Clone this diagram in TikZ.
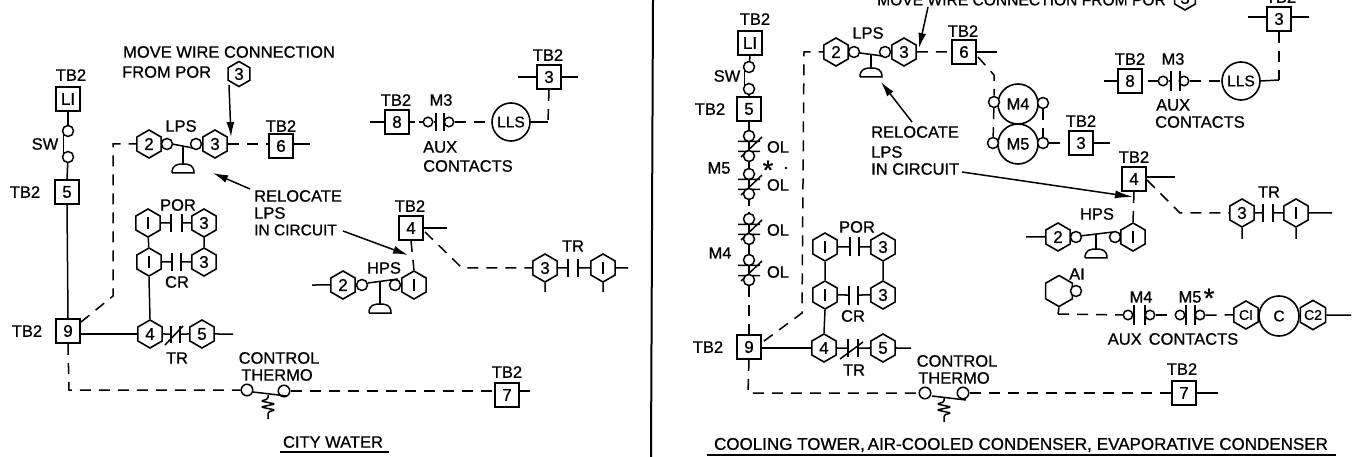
\documentclass[tikz,border=0pt]{standalone}
\usepackage{fontspec}
\setmainfont{Liberation Sans}[FakeBold=0.8]
\usetikzlibrary{shapes.geometric,arrows.meta,calc}
\tikzset{
  wire/.style={line width=1.5pt,black},
  dwire/.style={line width=1.5pt,black,dash pattern=on 11pt off 8pt},
  lbl/.style={inner sep=0pt,font=\fontsize{16.5}{18}\selectfont,text=black},
  lblw/.style={lbl,anchor=west},
  hexn/.style={draw,line width=1.6pt,regular polygon,regular polygon sides=6,shape border rotate=30,minimum size=28pt,inner sep=0pt,fill=white,font=\fontsize{17}{18}\selectfont},
  boxn/.style={draw,line width=1.7pt,minimum size=24pt,inner sep=0pt,fill=white,font=\fontsize{17}{18}\selectfont},
  bub/.style={draw,line width=1.5pt,circle,minimum size=11pt,inner sep=0pt,fill=white},
  bigc/.style={draw,line width=1.6pt,circle,minimum size=38pt,inner sep=0pt,fill=white,font=\fontsize{15.5}{17}\selectfont},
  lead/.style={line width=1.5pt,-{Latex[length=15pt,width=8pt]}},
}
% vertical contact bar at a named coordinate
\newcommand\vbar[4]{\coordinate (#1) at (#2,#3); \draw[wire] (#2,#3-#4) -- (#2,#3+#4);}
% dome of a pressure switch, stem from coordinate
\newcommand\dome[2]{\draw[wire] (#1-11,#2+9) -- (#1+11,#2+9) .. controls (#1+11,#2+1) and (#1+6,#2) .. (#1,#2) .. controls (#1-6,#2) and (#1-11,#2+1) .. (#1-11,#2+9);}
% overload pair
\newcommand\olc[3]{%
  \draw[wire] (#2-11,#3+5.5) -- (#2+11,#3+5.5) (#2-11,#3+15.5) -- (#2+11,#3+15.5) (#2-8,#3+21) -- (#2+13,#3+1);
  \node[bub] (#1a) at (#2,#3) {}; \node[bub] (#1b) at (#2,#3+20) {};
  \draw[wire] (#1a) -- (#1b);}
\newcommand\spring[2]{\draw[wire,rounded corners=1.5pt] (#1,#2) -- (#1,#2+4) -- (#1-7,#2+6) -- (#1+7,#2+9) -- (#1-7,#2+12) -- (#1+7,#2+15) -- (#1,#2+17) -- (#1,#2+24);}
\begin{document}
\begin{tikzpicture}[x=1pt,y=-1pt]
\useasboundingbox (0,0) rectangle (1363,457);
\clip (0,0) rectangle (1363,457);
\fill[white] (0,0) rectangle (1363,457);
% divider
\coordinate (divt) at (653,0); \coordinate (divb) at (651,457);
\draw[line width=2pt] (divt) -- (divb);

%%%%%%%%%%% LEFT PANEL
\node[lbl] (ltb1) at (71,75) {TB2};
\node[boxn] (lL1) at (68,99) {LI};
\node[bub] (lsw1) at (68,131) {};
\node[bub] (lsw2) at (68,157) {};
\draw[wire] (lL1.south) -- (lsw1);
\draw[wire] (lsw1.south west) -- ($(lsw2.north west)+(0,1)$);
\node[lbl] (lsw) at (45,144) {SW};
\node[boxn] (l5) at (67,192) {5};
\node[lbl] (ltb5) at (25,192) {TB2};
\draw[wire] (lsw2) -- (l5.north);
\node[boxn] (l9) at (68,331) {9};
\node[lbl] (ltb9) at (27,331) {TB2};
\draw[wire] (l5.south) -- (l9.north);
% LPS
\node[hexn] (lh2) at (149,144) {2};
\node[bub] (lc1) at (167,144) {};
\node[bub] (lc2) at (196,144) {};
\node[hexn] (lh3) at (215,144) {3};
\node[lbl] (llps) at (181,126) {LPS};
\coordinate (lbar1) at (172,144); \coordinate (lbar2) at (193,148);
\draw[wire] (lbar1) -- (lbar2);
\coordinate (lst) at (183,146); \coordinate (lsb) at (183,165);
\draw[wire] (lst) -- (lsb);
\dome{183}{164}
\coordinate (lc1a) at (82,327); \coordinate (lc1b) at (113,296); \coordinate (lc1c) at (113,144);
\draw[dwire] (l9.north east) ++(0,4) -- (lc1b) -- (lc1c) -- (lh2.west);
\node[boxn] (l6) at (281,146) {6};
\node[lbl] (ltb6) at (281,126) {TB2};
\coordinate (l6e) at (310,144);
\draw[dwire] (lh3.east) -- (l6.west |- lh3.east);
\draw[wire] (l6.east |- l6e) -- (l6e);
\node[lblw] (lmv) at (123,52) {MOVE WIRE CONNECTION};
\node[lblw] (lfr) at (122,72) {FROM POR};
\node[hexn,minimum size=25pt] (lh3b) at (239,74) {3};
\coordinate (la1) at (229,85); \coordinate (la2) at (231,137);
\draw[lead] (la1) -- (la2);
\node[lblw] (lrel) at (254,196) {RELOCATE};
\node[lblw] (llp2) at (254,213) {LPS};
\node[lblw,font=\fontsize{15.5}{18}\selectfont] (lin) at (254,230) {IN CIRCUIT};
\coordinate (la3) at (250,189); \coordinate (la4) at (213,173);
\draw[lead] (la3) -- (la4);
\coordinate (la5) at (343,231); \coordinate (la6) at (408,255);
\draw[lead] (la5) -- (la6);
% POR/CR
\node[lbl] (lpor) at (178,205) {POR};
\node[hexn] (lp1) at (148,223) {I};
\node[hexn] (lp3) at (204,223) {3};
\vbar{lpa}{171}{223}{9} \vbar{lpb}{182}{223}{9}
\draw[wire] (lp1.east) -- (lpa) (lpb) -- (lp3.west);
\node[hexn] (lq1) at (149,262) {I};
\node[hexn] (lq3) at (204,262) {3};
\vbar{lqa}{172}{262}{9} \vbar{lqb}{181}{262}{9}
\draw[wire] (lq1.east) -- (lqa) (lqb) -- (lq3.west);
\draw[wire] (lp1) -- (lq1) (lp3) -- (lq3);
\node[lbl] (lcr) at (177,282) {CR};
\node[hexn] (lh4) at (150,334) {4};
\node[hexn] (lh5) at (202,334) {5};
\draw[wire] (lq1.south) -- (lh4.north);
\draw[wire] (l9.east |- lh4.west) -- (lh4.west);
\vbar{lra}{171}{334}{8.5} \vbar{lrb}{180}{334}{8.5}
\draw[wire] (lh4.east) -- (lra) (lrb) -- (lh5.west);
\coordinate (lsl1) at (165,345); \coordinate (lsl2) at (183,326);
\draw[wire] (lsl1) -- (lsl2);
\coordinate (l5e) at (233,334);
\draw[wire] (lh5.east) -- (l5e);
\node[lbl] (ltr1) at (177,358) {TR};
% thermo
\node[lbl] (lctl) at (279,358) {CONTROL};
\node[lbl] (lthm) at (277,375) {THERMO};
\node[bub,minimum size=11.5pt] (lt1) at (247,390) {};
\node[bub,minimum size=11.5pt] (lt2) at (284,391) {};
\coordinate (ltb) at (253,392); \coordinate (lte) at (287,396);
\draw[wire] (ltb) -- (lte);
\spring{268}{395}
\node[boxn] (l7) at (507,395) {7};
\node[lbl] (ltb7) at (507,372) {TB2};
\coordinate (lcor) at (69,390);
\draw[dwire] (l9.south) -- (lcor) -- (lt1.west);
\draw[dwire] (lt2.east) -- (l7.west |- lt2.east);
\coordinate (l7e) at (530,391);
\draw[wire] (l7.east |- l7e) -- (l7e);
\node[lbl] (lcity) at (333,442) {CITY WATER};
\coordinate (lu1) at (280,452); \coordinate (lu2) at (389,452);
\draw[wire] (lu1) -- (lu2);
% top right
\node[lbl] (ltb3) at (548,55) {TB2};
\node[boxn] (l3) at (549,77) {3};
\coordinate (l3w) at (518,77); \coordinate (l3e) at (578,77);
\draw[wire] (l3w) -- (l3.west) (l3.east) -- (l3e);
\node[bigc] (lls) at (511,122) {LLS};
\coordinate (l3c) at (548,122);
\draw[dwire] (l3.south) -- (l3c);
\draw[wire] (lls.east) -- (l3c);
\node[boxn] (l8) at (397,122) {8};
\node[lbl] (ltb8) at (396,100) {TB2};
\node[lbl] (lm3) at (441,100) {M3};
\coordinate (l8w) at (370,122); \coordinate (l8e) at (415,122);
\draw[wire] (l8w) -- (l8.west) (l8.east) -- (l8e);
\coordinate (lm3a) at (419,122);
\node[bub,minimum size=9.5pt] (lac1) at (428,122) {};
\node[bub,minimum size=9.5pt] (lac2) at (449,122) {};
\vbar{lba}{436}{122}{9} \vbar{lbb}{444}{122}{9}
\draw[wire] (lm3a) -- (lac1.west) (lac1.east) -- (lba) (lbb) -- (lac2.west);
\draw[dwire] (lac2.east) -- (lls.west);
\node[lblw] (laux) at (423,147) {AUX};
\node[lblw] (lcon) at (423,166) {CONTACTS};
% box 4
\node[lbl] (ltb4) at (410,206) {TB2};
\node[boxn] (l4) at (411,228) {4};
\coordinate (l4e) at (447,228);
\draw[wire] (l4.east) -- (l4e);
\node[hexn] (lt3) at (545,268) {3};
\node[hexn] (lt1h) at (603,268) {I};
\coordinate (l4c) at (462,268);
\draw[dwire] (425,232) -- (l4c) -- (lt3.west);
\vbar{ltra}{568}{268}{9} \vbar{ltrb}{578}{268}{9}
\draw[wire] (lt3.east) -- (ltra) (ltrb) -- (lt1h.west);
\coordinate (lts1) at (545,292); \coordinate (lts2) at (603,292); \coordinate (lte1) at (628,268);
\draw[wire] (lt3.south) -- (lts1) (lt1h.south) -- (lts2) (lt1h.east) -- (lte1);
\node[lbl] (ltr2) at (573,246) {TR};
% HPS
\node[hexn] (lh22) at (343,285) {2};
\node[bub] (lhc1) at (362,285) {};
\node[bub] (lhc2) at (395,285) {};
\node[hexn] (lh11) at (414,285) {I};
\node[lbl] (lhps) at (384,268) {HPS};
\coordinate (lhw) at (312,285);
\draw[wire] (lhw) -- (lh22.west);
\draw[dwire] (l4.south) -- (lh11.north);
\coordinate (lhb1) at (368,283); \coordinate (lhb2) at (398,279);
\draw[wire] (lhb1) -- (lhb2);
\coordinate (lhs1) at (380,282); \coordinate (lhs2) at (380,305);
\draw[wire] (lhs1) -- (lhs2);
\dome{380}{304}

%%%%%%%%%%% RIGHT PANEL
\node[lbl] (rtb1) at (755,19) {TB2};
\node[boxn] (rL1) at (750,43) {LI};
\node[bub] (rsw1) at (749,67) {};
\node[bub] (rsw2) at (749,89) {};
\draw[wire] (rL1.south) -- (rsw1);
\draw[wire] (rsw1.south west) -- ($(rsw2.north west)+(0,1)$);
\node[lbl] (rsw) at (727,76) {SW};
\node[boxn] (r5) at (749,109) {5};
\node[lbl] (rtb5) at (710,109) {TB2};
\draw[wire] (rsw2) -- (r5.north);
\olc{ro1}{749}{136}
\olc{ro2}{749}{174}
\olc{ro3}{749}{219}
\olc{ro4}{749}{260}
\draw[wire] (r5.south) -- (ro1a);
\draw[wire] (ro1b) -- (ro2a) (ro3b) -- (ro4a);
\coordinate (r2s) at (749,206); \coordinate (r3n) at (749,212);
\draw[wire] (ro2b) -- (r2s) (r3n) -- (ro3a);
\node[lbl] (rol1) at (778,147) {OL};
\node[lbl] (rol2) at (778,185) {OL};
\node[lbl] (rol3) at (778,230) {OL};
\node[lbl] (rol4) at (778,272) {OL};
\node[lbl] (rm5) at (719,168) {M5};
\node[lbl] (rm4) at (720,253) {M4};
\node[lbl,font=\fontsize{27}{27}\selectfont] (rstar) at (768,170) {*};
\fill (786,168) circle (1.3);
\node[boxn] (r9) at (749,347) {9};
\node[lbl] (rtb9) at (708,347) {TB2};
\draw[dwire] (ro4b) -- (r9.north);
% LPS
\node[hexn] (rh2) at (836,52) {2};
\node[bub] (rc1) at (854,52) {};
\node[bub] (rc2) at (885,52) {};
\node[hexn] (rh3) at (904,52) {3};
\node[lbl] (rlps) at (868,33) {LPS};
\coordinate (rb1) at (860,53); \coordinate (rb2) at (883,56);
\draw[wire] (rb1) -- (rb2);
\coordinate (rs1) at (871,55); \coordinate (rs2) at (871,69);
\draw[wire] (rs1) -- (rs2);
\dome{871}{68}
\coordinate (rk1) at (802,313); \coordinate (rk2) at (804,52);
\draw[dwire] (r9.north east) ++(2,7) -- (rk1) -- (rk2) -- (rh2.west);
\node[boxn] (r6) at (964,52) {6};
\node[lbl] (rtb6) at (963,31) {TB2};
\draw[dwire] (rh3.east) -- (r6.west);
\coordinate (r6e) at (997,52);
\draw[wire] (r6.east) -- (r6e);
% move text
\node[lblw,font=\fontsize{15.6}{18}\selectfont] (rmv) at (877,0) {MOVE WIRE CONNECTION FROM POR};
\node[hexn,minimum size=24pt] (rh3b) at (1185,-2) {3};
\coordinate (ra1) at (928,7); \coordinate (ra2) at (919,48);
\draw[lead] (ra1) -- (ra2);
\node[lblw] (rrel) at (871,132) {RELOCATE};
\node[lblw] (rlp2) at (871,152) {LPS};
\node[lblw] (rin) at (871,169) {IN CIRCUIT};
\coordinate (ra3) at (912,122); \coordinate (ra4) at (881,82);
\draw[lead] (ra3) -- (ra4);
\coordinate (ra5) at (962,172); \coordinate (ra6) at (1133,197);
\draw[lead,-{Latex[length=18pt,width=8pt]}] (ra5) -- (ra6);
% M4 M5
\node[bigc,minimum size=40pt,font=\fontsize{16.5}{18}\selectfont] (rm4c) at (1018,104) {M4};
\node[bigc,minimum size=40pt,font=\fontsize{16.5}{18}\selectfont] (rm5c) at (1018,144) {M5};
\node[bub] (rb4l) at (994,102) {};
\node[bub] (rb4r) at (1043,103) {};
\node[bub] (rb5l) at (993,143) {};
\node[bub] (rb5r) at (1043,143) {};
\coordinate (r6a) at (978,57); \coordinate (r6b) at (994,75);
\draw[dwire] (r6a) -- (r6b) -- (rb4l.north);
\draw[dwire] (rb4l) -- (rb5l);
\draw[dwire] (rb4r) -- (rb5r);
\node[boxn] (r3) at (1081,143) {3};
\node[lbl] (rtb3) at (1081,121) {TB2};
\coordinate (r3e) at (1110,143);
\draw[wire] (r3.east) -- (r3e);
\draw[dwire] (rb5r.east) -- (r3.west);
% top right
\node[lbl] (rtb3t) at (1281,-3) {TB2};
\node[boxn] (r3t) at (1279,19) {3};
\coordinate (r3w) at (1248,17); \coordinate (r3x) at (1309,17);
\draw[wire] (r3w) -- (r3t.west |- r3w) (r3t.east |- r3x) -- (r3x);
\node[bigc] (rlls) at (1241,81) {LLS};
\coordinate (r3c) at (1279,80);
\draw[dwire] (r3t.south) -- (r3c);
\draw[wire] (r3c) -- (rlls.east);
\node[boxn] (r8) at (1130,81) {8};
\node[lbl] (rtb8) at (1130,59) {TB2};
\node[lbl] (rm3) at (1173,59) {M3};
\coordinate (r8w) at (1104,81); \coordinate (r8a) at (1148,81);
\draw[wire] (r8w) -- (r8.west);
\node[bub,minimum size=9.5pt] (rac1) at (1163,81) {};
\node[bub,minimum size=9.5pt] (rac2) at (1184,81) {};
\vbar{rba}{1171}{81}{10} \vbar{rbb}{1180}{81}{10}
\draw[wire] (r8a) -- (rac1.west) (rac1.east) -- (rba) (rbb) -- (rac2.west);
\draw[dwire] (rac2.east) -- (rlls.west);
\node[lblw] (raux) at (1156,105) {AUX};
\node[lblw] (rcon) at (1155,122) {CONTACTS};
% box 4
\node[lbl] (rtb4) at (1134,157) {TB2};
\node[boxn] (r4) at (1134,179) {4};
\coordinate (r4e) at (1175,177);
\draw[wire] (r4.east |- r4e) -- (r4e);
\node[hexn] (rt3) at (1242,213) {3};
\node[hexn] (rt1) at (1296,213) {I};
\coordinate (r4c) at (1180,213);
\draw[dwire] (1147,180) -- (r4c) -- (rt3.west);
\vbar{rtra}{1263}{213}{9} \vbar{rtrb}{1273}{213}{9}
\draw[wire] (rt3.east) -- (rtra) (rtrb) -- (rt1.west);
\coordinate (rts1) at (1242,239); \coordinate (rts2) at (1296,239); \coordinate (rte1) at (1332,213);
\draw[wire] (rt3.south) -- (rts1) (rt1.south) -- (rts2) (rt1.east) -- (rte1);
\node[lbl] (rtr2) at (1269,192) {TR};
% HPS
\node[hexn] (rh22) at (1058,237) {2};
\node[bub] (rhc1) at (1076,237) {};
\node[bub] (rhc2) at (1115,237) {};
\node[hexn] (rh11) at (1133,237) {I};
\node[lbl] (rhps) at (1097,214) {HPS};
\coordinate (rhw) at (1026,237);
\draw[wire] (rhw) -- (rh22.west);
\draw[dwire] (r4.south) -- (rh11.north);
\coordinate (rhb1) at (1080,236); \coordinate (rhb2) at (1113,232);
\draw[wire] (rhb1) -- (rhb2);
\coordinate (rhs1) at (1096,234); \coordinate (rhs2) at (1096,250);
\draw[wire] (rhs1) -- (rhs2);
\dome{1096}{249}
% A1 row
\node[hexn,minimum size=31pt] (ra1h) at (1059,291) {};
\node[bub] (ra1c) at (1076,291) {};
\node[lbl] (rai) at (1077,274) {AI};
\coordinate (ra1k) at (1058,314);
\draw[wire] (ra1h.south) -- (ra1k);
\node[bub,minimum size=9.5pt] (rm41) at (1128,315) {};
\node[bub,minimum size=9.5pt] (rm42) at (1150,315) {};
\node[bub,minimum size=9.5pt] (rm51) at (1180,315) {};
\node[bub,minimum size=9.5pt] (rm52) at (1200,315) {};
\vbar{rma}{1134}{315}{10} \vbar{rmb}{1145}{315}{10}
\vbar{rna}{1186}{315}{10} \vbar{rnb}{1195}{315}{10}
\draw[dwire] (ra1k) -- (rm41.west);
\draw[wire] (rm41.east) -- (rma) (rmb) -- (rm42.west) (rna) -- (rm51.east) (rnb) -- (rm52.west);
\draw[dwire] (rm42.east) -- (rm51.west);
\node[hexn,font=\fontsize{14}{16}\selectfont] (rc1h) at (1246,315) {CI};
\node[bigc,minimum size=40pt] (rcc) at (1279,316) {C};
\node[hexn,font=\fontsize{14}{16}\selectfont] (rc2h) at (1313,315) {C2};
\draw[dwire] (rm52.east) -- (rc1h.west);
\coordinate (rce) at (1351,315);
\draw[wire] (rc2h.east) -- (rce);
\node[lbl] (rm4l) at (1141,297) {M4};
\node[lbl] (rm5l) at (1190,297) {M5};
\node[lbl,font=\fontsize{27}{27}\selectfont] (rstar2) at (1209,298) {*};
\node[lbl] (rauxc) at (1173,339) {AUX\hspace{7pt}CONTACTS};
% bottom
\node[boxn] (r7) at (1184,393) {7};
\node[lbl] (rtb7) at (1182,369) {TB2};
\coordinate (r7e) at (1218,393);
\draw[wire] (r7.east) -- (r7e);
\node[bub,minimum size=11.5pt] (rt1c) at (925,393) {};
\node[bub,minimum size=11.5pt] (rt2c) at (963,393) {};
\coordinate (rtb) at (932,396); \coordinate (rte) at (966,400);
\draw[wire] (rtb) -- (rte);
\spring{944}{398}
\coordinate (rcor) at (748,393);
\draw[dwire] (r9.south) -- (rcor) -- (rt1c.west);
\draw[dwire] (rt2c.east) -- (r7.west);
\node[lbl] (rctl) at (957,361) {CONTROL};
\node[lbl] (rthm) at (954,378) {THERMO};
% POR/CR
\node[lbl] (rpor) at (857,227) {POR};
\node[hexn] (rp1) at (825,247) {I};
\node[hexn] (rp3) at (883,247) {3};
\vbar{rpa}{850}{247}{9.5} \vbar{rpb}{859}{247}{9.5}
\draw[wire] (rp1.east) -- (rpa) (rpb) -- (rp3.west);
\node[hexn] (rq1) at (825,295) {I};
\node[hexn] (rq3) at (883,295) {3};
\vbar{rqa}{849}{295}{9.5} \vbar{rqb}{858}{295}{9.5}
\draw[wire] (rq1.east) -- (rqa) (rqb) -- (rq3.west);
\draw[wire] (rp1) -- (rq1) (rp3) -- (rq3);
\node[lbl] (rcr) at (853,316) {CR};
\node[hexn] (rh4) at (824,348) {4};
\node[hexn] (rh5) at (883,348) {5};
\draw[wire] (rq1.south) -- (rh4.north);
\draw[wire] (r9.east |- rh4.west) -- (rh4.west);
\vbar{rra}{848}{348}{9} \vbar{rrb}{858}{348}{9}
\draw[wire] (rh4.east) -- (rra) (rrb) -- (rh5.west);
\coordinate (rsl1) at (840,359); \coordinate (rsl2) at (863,342);
\draw[wire] (rsl1) -- (rsl2);
\coordinate (r5e) at (911,348);
\draw[wire] (rh5.east) -- (r5e);
\node[lbl] (rtr1) at (854,370) {TR};
% caption
\node[lbl,font=\fontsize{17}{18}\selectfont] (rcap) at (1021,445) {COOLING TOWER,\,AIR-COOLED\hspace{5pt}CONDENSER,\hspace{5pt}EVAPORATIVE\hspace{5pt}CONDENSER};
\coordinate (ru1) at (707,455); \coordinate (ru2) at (1336,455);
\draw[wire] (ru1) -- (ru2);
\end{tikzpicture}
\end{document}
